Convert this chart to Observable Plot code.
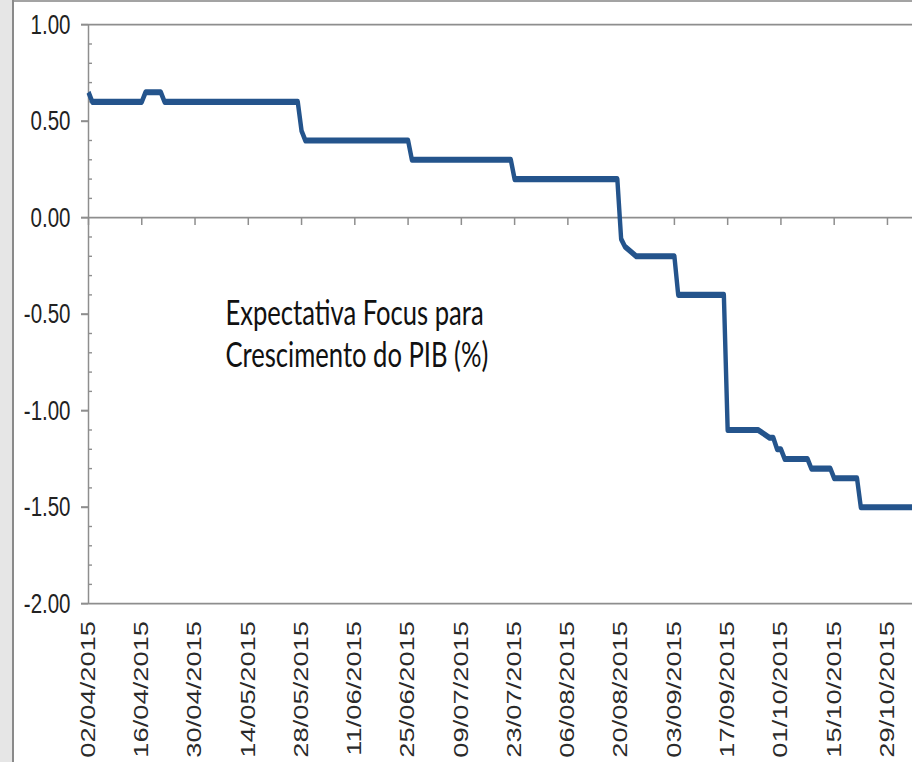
<!DOCTYPE html>
<html>
<head>
<meta charset="utf-8">
<script src="https://cdn.jsdelivr.net/npm/d3@7"></script>
<script src="https://cdn.jsdelivr.net/npm/@observablehq/plot@0.6"></script>
<style>
  html, body { margin: 0; padding: 0; background: #fff; overflow: hidden; width: 912px; height: 762px; }
  #chart { position: absolute; left: 0; top: 0; }
  #frameLeft { position: absolute; left: 0; top: 0; width: 12px; height: 762px; background: #e6e6e6; border-right: 2px solid #8a8a8a; }
  #frameTop { position: absolute; left: 14px; top: 0; width: 898px; height: 2px; background: #a3a3a3; }
</style>
</head>
<body>
<div id="chart"></div>
<div id="frameLeft"></div>
<div id="frameTop"></div>
<script>
// ---- data ----
const dates = [
  "02/04/2015","03/04/2015","16/04/2015","17/04/2015","21/04/2015","22/04/2015",
  "27/05/2015","28/05/2015","29/05/2015","25/06/2015","26/06/2015",
  "22/07/2015","23/07/2015","19/08/2015","20/08/2015","21/08/2015","24/08/2015",
  "03/09/2015","04/09/2015","16/09/2015","17/09/2015","25/09/2015",
  "28/09/2015","29/09/2015","30/09/2015","01/10/2015","02/10/2015",
  "08/10/2015","09/10/2015","14/10/2015","15/10/2015","21/10/2015","22/10/2015",
  "05/11/2015"
];
const values = [
  0.65, 0.60, 0.60, 0.65, 0.65, 0.60,
  0.60, 0.45, 0.40, 0.40, 0.30,
  0.30, 0.20, 0.20, -0.11, -0.15, -0.20,
  -0.20, -0.40, -0.40, -1.10, -1.10,
  -1.14, -1.14, -1.20, -1.20, -1.25,
  -1.25, -1.30, -1.30, -1.35, -1.35, -1.50,
  -1.50
];
const xTickLabels = [
  "02/04/2015","16/04/2015","30/04/2015","14/05/2015","28/05/2015","11/06/2015",
  "25/06/2015","09/07/2015","23/07/2015","06/08/2015","20/08/2015","03/09/2015",
  "17/09/2015","01/10/2015","15/10/2015","29/10/2015"
];
const xDomainLabels = ["02/04/2015", "04/11/2015"];
const yTicks = [1, 0.5, 0, -0.5, -1, -1.5, -2];
const yMinorTicks = [0.9, 0.8, 0.7, 0.6, 0.4, 0.3, 0.2, 0.1, -0.1, -0.2, -0.3, -0.4,
  -0.6, -0.7, -0.8, -0.9, -1.1, -1.2, -1.3, -1.4, -1.6, -1.7, -1.8, -1.9];
const yDomain = [-2, 1];
const refLines = [1, 0, -2];
const annotationLines = ["Expectativa Focus para", "Crescimento do PIB (%)"];
const annotationDate = "08/05/2015";
const annotationValue = -0.40;

// ---- build ----
const parse = d3.utcParse("%d/%m/%Y");
const series = dates.map((d, i) => ({date: parse(d), value: values[i]}));
const xTicks = xTickLabels.map(parse);
const xDomain = [parse(xDomainLabels[0]), new Date(+parse(xDomainLabels[1]) + 14 * 3600e3)];
const annotation = [{date: parse(annotationDate), value: annotationValue, text: annotationLines.join("\n")}];

const W = 912, H = 552, FULL_H = 762;
const stretch = FULL_H / H;
const axisColor = "#8e8e8e";
const textColor = "#222";

const chart = Plot.plot({
  width: W,
  height: H,
  marginLeft: 88,
  marginRight: 0,
  marginTop: 24 / stretch,
  marginBottom: H - 603 / stretch,
  style: {background: "#fff", color: textColor},
  x: {type: "utc", domain: xDomain, label: null},
  y: {domain: yDomain, label: null},
  marks: [
    Plot.ruleY(refLines, {stroke: axisColor, strokeWidth: 1.2}),
    Plot.ruleX([xDomain[0]], {stroke: axisColor, strokeWidth: 1.5}),
    Plot.ruleX(xTicks, {x: d => d, y1: 0, y2: 0, insetTop: 0, insetBottom: -5.8, stroke: axisColor, strokeWidth: 1.5}),
    Plot.axisY({ticks: yMinorTicks, tickSize: 4, dx: 4, fill: "none", stroke: axisColor, label: null}),
    Plot.axisY({
      ticks: yTicks, tickSize: 7, tickPadding: 11, stroke: axisColor, strokeWidth: 1.5,
      tickFormat: d => d.toFixed(2), fontSize: 20.5, fontFamily: "Liberation Sans, Arial, sans-serif",
      fill: textColor, label: null
    }),
    Plot.axisX({
      ticks: xTicks, anchor: "bottom", tickSize: 0, tickPadding: 12.5, tickRotate: -90,
      tickFormat: d3.utcFormat("%d/%m/%Y"), fontSize: 19.8, fontFamily: "Liberation Sans, Arial, sans-serif",
      fill: "#2a2a2a", label: null
    }),
    Plot.line(series, {x: "date", y: "value", stroke: "#24548c", strokeWidth: 4.4, strokeLinejoin: "round", strokeLinecap: "butt"}),
    Plot.text(annotation, {
      x: "date", y: "value", text: "text", textAnchor: "start", lineAnchor: "top",
      fontSize: 25.6, lineHeight: 1.2, fontFamily: "Lato, sans-serif", fill: "#111"
    })
  ]
});

chart.setAttribute("height", FULL_H);
chart.setAttribute("preserveAspectRatio", "none");
chart.style.height = FULL_H + "px";
chart.style.maxWidth = "none";
chart.style.width = W + "px";
document.getElementById("chart").appendChild(chart);
</script>
</body>
</html>
